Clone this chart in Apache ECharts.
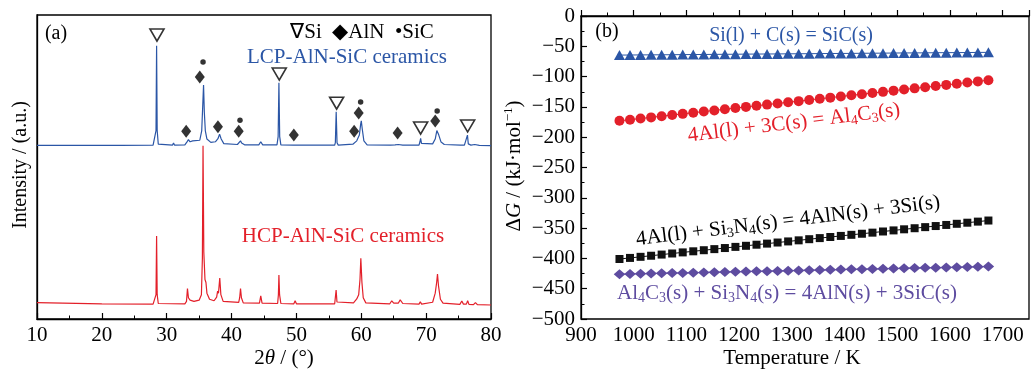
<!DOCTYPE html>
<html>
<head>
<meta charset="utf-8">
<script src="https://cdn.jsdelivr.net/npm/echarts@6/dist/echarts.min.js"></script>
<style>
  html, body { margin: 0; padding: 0; background: #fff; }
  #chart { width: 1032px; height: 372px; }
</style>
</head>
<body>
<div id="chart"></div>
<script>
// (a) XRD patterns, [2theta, intensity]
const lcpPattern = [
  [10, 57.1], [20.4, 57.1], [20.6, 57.6], [20.8, 57.1], [22.9, 57.1], [23.0, 57.4], [23.1, 57.1], [27.9, 57.2],
  [28.2, 57.5], [28.35, 62], [28.44, 89.9], [28.53, 62], [28.7, 57.5], [30.9, 57.2], [31.05, 57.9], [31.2, 57.2],
  [32.8, 57.3], [33.1, 58.2], [33.35, 59.0], [33.6, 58.3], [34.0, 58.6], [34.3, 58.1], [35.1, 58.8], [35.4, 62],
  [35.55, 70], [35.68, 77], [35.8, 68], [35.95, 62], [36.2, 59.2], [36.8, 58.1], [37.5, 58.3], [37.9, 59.3],
  [38.15, 60.8], [38.4, 59.2], [38.8, 57.7], [40.9, 57.4], [41.2, 57.9], [41.38, 58.6], [41.55, 57.9], [42, 57.3],
  [44.2, 57.3], [44.5, 58.3], [44.8, 57.3], [47.0, 57.3], [47.18, 60], [47.3, 77.7], [47.42, 60], [47.6, 57.3],
  [49.6, 57.2], [49.8, 57.6], [50.0, 57.2], [55.9, 57.2], [56.0, 58], [56.13, 68.2], [56.26, 58], [56.45, 57.2],
  [58.7, 57.5], [59.3, 58.6], [59.7, 60.5], [59.9, 64], [60.0, 65.2], [60.15, 62.5], [60.4, 58.6], [60.9, 57.3],
  [64.5, 57.2], [64.8, 57.7], [65.2, 57.3], [65.7, 57.4], [66.0, 57.8], [66.4, 57.2], [68.9, 57.2], [69.05, 58.3],
  [69.15, 59.4], [69.28, 57.8], [69.5, 57.2], [71.0, 57.6], [71.4, 59.2], [71.65, 62], [71.78, 62.4], [71.95, 60.5],
  [72.3, 58.2], [72.8, 57.4], [75.3, 57.2], [75.6, 57.6], [75.9, 57.2], [76.2, 57.4], [76.37, 60.5], [76.5, 57.6],
  [76.9, 57.2], [77.5, 57.4], [77.8, 57.5], [78.2, 57.1], [80, 57.0]
]
const hcpPattern = [
  [10, 5.4], [20, 5.0], [27.9, 4.9], [28.2, 5.0], [28.35, 8], [28.44, 27.3], [28.53, 8], [28.7, 5.1],
  [32.8, 5.0], [33.05, 5.8], [33.2, 10], [33.35, 7], [33.6, 6.2], [34.2, 5.8], [35.0, 6.2], [35.35, 8],
  [35.5, 20], [35.6, 57], [35.72, 22], [35.9, 13], [36.05, 12], [36.2, 8.5], [36.6, 6.5], [37.3, 6.0],
  [37.7, 7.2], [37.85, 9.2], [37.98, 8.5], [38.18, 13.5], [38.35, 8], [38.7, 5.8], [41.1, 5.5], [41.25, 7],
  [41.38, 10], [41.52, 7], [41.8, 5.3], [44.3, 5.2], [44.5, 7.6], [44.7, 5.2], [47.1, 5.1], [47.22, 8],
  [47.3, 14.5], [47.4, 8], [47.6, 5.1], [49.6, 5.0], [49.8, 6.0], [50.0, 5.0], [55.9, 5.0], [56.0, 5.5],
  [56.12, 9.5], [56.25, 5.6], [58.8, 5.3], [59.3, 6.6], [59.6, 8], [59.8, 13], [59.93, 20], [60.1, 12],
  [60.3, 7], [60.7, 5.3], [64.4, 5.0], [64.7, 6.0], [65.0, 5.2], [65.7, 5.2], [66.0, 6.3], [66.4, 5.1],
  [68.9, 4.9], [69.1, 5.7], [69.3, 4.9], [71.0, 5.5], [71.4, 8.5], [71.62, 12], [71.75, 14.8], [71.9, 11],
  [72.2, 6.5], [72.6, 5.2], [75.2, 4.8], [75.5, 5.9], [75.75, 4.9], [76.2, 4.9], [76.4, 6.0], [76.6, 4.8],
  [77.3, 4.7], [77.6, 5.4], [77.9, 4.7], [80, 4.6]
]
// phase marks above the LCP peaks
const siMarks = [[28.5, 93.4], [47.35, 80.6], [56.2, 71.0], [69.15, 62.8], [76.4, 63.5]]
const alnMarks = [[33.0, 61.8], [35.1, 79.6], [37.9, 63.2], [41.1, 61.8], [49.6, 60.5], [58.9, 61.8], [59.6, 67.8], [65.6, 61.2], [71.4, 65.1]]
const sicMarks = [[35.6, 84.5], [41.3, 65.4], [59.9, 71.4], [71.7, 68.4]]

// (b) Gibbs free energy vs temperature
const temps = [973, 993, 1013, 1033, 1053, 1073, 1093, 1113, 1133, 1153, 1173, 1193, 1213, 1233, 1253, 1273, 1293, 1313,
  1333, 1353, 1373, 1393, 1413, 1433, 1453, 1473, 1493, 1513, 1533, 1553, 1573, 1593, 1613, 1633, 1653, 1673]
const dgSiC = [-64.5, -64.4, -64.2, -64.1, -64.0, -63.9, -63.7, -63.6, -63.5, -63.3, -63.2, -63.1, -62.9, -62.8, -62.7, -62.6, -62.4, -62.3,
  -62.2, -62.0, -61.9, -61.8, -61.7, -61.5, -61.4, -61.3, -61.1, -61.0, -60.9, -60.8, -60.6, -60.5, -60.4, -60.3, -60.1, -60.0]
const dgAl4C3 = [-173.0, -171.1, -169.2, -167.3, -165.3, -163.4, -161.5, -159.6, -157.7, -155.8, -153.9, -151.9, -150.0, -148.1, -146.2, -144.3, -142.4, -140.5,
  -138.5, -136.6, -134.7, -132.8, -130.9, -129.0, -127.1, -125.2, -123.2, -121.3, -119.4, -117.5, -115.6, -113.7, -111.8, -109.8, -107.9, -106.0]
const dgAlN = [-401.0, -399.2, -397.4, -395.6, -393.7, -391.9, -390.1, -388.3, -386.5, -384.7, -382.9, -381.0, -379.2, -377.4, -375.6, -373.8, -372.0, -370.2,
  -368.3, -366.5, -364.7, -362.9, -361.1, -359.3, -357.5, -355.6, -353.8, -352.0, -350.2, -348.4, -346.6, -344.8, -342.9, -341.1, -339.3, -337.5]
const dgAlNSiC = [-426.0, -425.6, -425.3, -424.9, -424.6, -424.2, -423.9, -423.5, -423.1, -422.8, -422.4, -422.1, -421.7, -421.4, -421.0, -420.6, -420.3, -419.9,
  -419.6, -419.2, -418.9, -418.5, -418.1, -417.8, -417.4, -417.1, -416.7, -416.4, -416.0, -415.6, -415.3, -414.9, -414.6, -414.2, -413.9, -413.5]

const font = 'Liberation Serif'
const blue = '#2B56A6'
const red = '#E3202A'
const purple = '#5E4CA0'
const pairs = arr => temps.map((t, i) => [t, arr[i]])

const chart = echarts.init(document.getElementById('chart'))

const axisCommon = {
  axisLine: { lineStyle: { color: '#000', width: 1.3 } },
  axisTick: { inside: true, length: 6, lineStyle: { color: '#000', width: 1.2 } },
  minorTick: { show: true, splitNumber: 2, length: 3.5, lineStyle: { color: '#000', width: 1 } },
  splitLine: { show: false },
}

function richText(x, y, text, size, color, rot) {
  return {
    type: 'text', x: x, y: y, rotation: (rot || 0) * Math.PI / 180,
    style: {
      text: text, fill: color, fontFamily: font, fontSize: size,
      align: 'center', verticalAlign: 'middle',
      rich: {
        n: { fontSize: size, lineHeight: 24, fontFamily: font, fill: color },
        i: { fontSize: size, lineHeight: 24, fontFamily: font, fontStyle: 'italic', fill: color },
        s: { fontSize: 14, lineHeight: 14, padding: [10, 0, 0, 0], fontFamily: font, fill: color },
        u: { fontSize: 13, lineHeight: 13, padding: [0, 0, 10, 0], fontFamily: font, fill: color },
      },
    },
  }
}

const option = {
  backgroundColor: '#fff',
  animation: false,
  textStyle: { fontFamily: font },
  grid: [
    { left: 37, top: 15, width: 454, height: 304, show: true, borderColor: '#000', borderWidth: 1.3 },
    { left: 581, top: 16, width: 454, height: 303, show: true, borderColor: '#000', borderWidth: 1.3 },
  ],
  xAxis: [
    {
      ...axisCommon, gridIndex: 0, type: 'value', min: 10, max: 80, interval: 10,
      axisLabel: { color: '#000', fontSize: 21, fontFamily: font, margin: 6 },
    },
    {
      ...axisCommon, gridIndex: 1, type: 'value', min: 900, max: 1750, interval: 100,
      axisLabel: {
        color: '#000', fontSize: 21, fontFamily: font, margin: 6,
        formatter: v => (v % 100 === 0 && v <= 1700 ? String(v) : ''),
      },
    },
  ],
  yAxis: [
    {
      gridIndex: 0, type: 'value', min: 0, max: 100,
      axisLine: { lineStyle: { color: '#000', width: 1.3 } },
      axisTick: { show: false }, axisLabel: { show: false }, splitLine: { show: false },
    },
    {
      ...axisCommon, gridIndex: 1, type: 'value', min: -500, max: 0, interval: 50,
      axisLabel: {
        color: '#000', fontSize: 21, fontFamily: font, margin: 6,
        formatter: v => String(v).replace('-', '\u2212'),
      },
    },
  ],
  series: [
    {
      name: 'LCP-AlN-SiC ceramics', type: 'line', xAxisIndex: 0, yAxisIndex: 0, data: lcpPattern,
      showSymbol: false, lineStyle: { color: blue, width: 1.2 }, z: 3,
    },
    {
      name: 'HCP-AlN-SiC ceramics', type: 'line', xAxisIndex: 0, yAxisIndex: 0, data: hcpPattern,
      showSymbol: false, lineStyle: { color: red, width: 1.2 }, z: 2,
    },
    {
      name: 'Si', type: 'scatter', xAxisIndex: 0, yAxisIndex: 0, data: siMarks,
      symbol: 'triangle', symbolRotate: 180, symbolSize: [14, 12],
      itemStyle: { color: '#fff', borderColor: '#000', borderWidth: 1.6 },
    },
    {
      name: 'AlN', type: 'scatter', xAxisIndex: 0, yAxisIndex: 0, data: alnMarks,
      symbol: 'diamond', symbolSize: [10, 13], itemStyle: { color: '#000' },
    },
    {
      name: 'SiC', type: 'scatter', xAxisIndex: 0, yAxisIndex: 0, data: sicMarks,
      symbol: 'circle', symbolSize: 5.5, itemStyle: { color: '#000' },
    },
    {
      name: 'Si(l) + C(s) = SiC(s)', type: 'line', xAxisIndex: 1, yAxisIndex: 1, data: pairs(dgSiC),
      symbol: 'triangle', symbolSize: [11, 10], itemStyle: { color: blue },
      lineStyle: { color: blue, width: 1 },
    },
    {
      name: '4Al(l) + 3C(s) = Al4C3(s)', type: 'line', xAxisIndex: 1, yAxisIndex: 1, data: pairs(dgAl4C3),
      symbol: 'circle', symbolSize: 10, itemStyle: { color: red },
      lineStyle: { color: red, width: 1 },
    },
    {
      name: '4Al(l) + Si3N4(s) = 4AlN(s) + 3Si(s)', type: 'line', xAxisIndex: 1, yAxisIndex: 1, data: pairs(dgAlN),
      symbol: 'rect', symbolSize: 8, itemStyle: { color: '#111' },
      lineStyle: { color: '#111', width: 1 },
    },
    {
      name: 'Al4C3(s) + Si3N4(s) = 4AlN(s) + 3SiC(s)', type: 'line', xAxisIndex: 1, yAxisIndex: 1, data: pairs(dgAlNSiC),
      symbol: 'diamond', symbolSize: [11.5, 10], itemStyle: { color: purple },
      lineStyle: { color: purple, width: 1 },
    },
  ],
  graphic: [
    // panel (a)
    richText(56, 34, '{n|(a)}', 20, '#000'),
    richText(362, 32, '{n|\u2207Si  \u25C6AlN  \u2022SiC}', 21, '#000'),
    richText(347, 57, '{n|LCP-AlN-SiC ceramics}', 21, blue),
    richText(343, 236, '{n|HCP-AlN-SiC ceramics}', 21, red),
    richText(21, 165, '{n|Intensity / (a.u.)}', 20, '#000', 90),
    richText(284, 358, '{n|2}{i|\u03B8}{n| / (°)}', 21, '#000'),
    // panel (b)
    richText(607, 32, '{n|(b)}', 20, '#000'),
    richText(791, 36, '{n|Si(l) + C(s) = SiC(s)}', 20, blue),
    richText(794, 123, '{n|4Al(l) + 3C(s) = Al}{s|4}{n|C}{s|3}{n|(s)}', 21, red, 7),
    richText(788, 221, '{n|4Al(l) + Si}{s|3}{n|N}{s|4}{n|(s) = 4AlN(s) + 3Si(s)}', 21, '#000', 7),
    richText(787, 293, '{n|Al}{s|4}{n|C}{s|3}{n|(s) + Si}{s|3}{n|N}{s|4}{n|(s) = 4AlN(s) + 3SiC(s)}', 21, purple),
    richText(792, 358, '{n|Temperature / K}', 21, '#000'),
    richText(514, 166, '{n|\u0394}{i|G}{n| / (kJ\u00B7mol}{u|\u22121}{n|)}', 21, '#000', 90),
  ],
}

chart.setOption(option)
</script>
</body>
</html>
